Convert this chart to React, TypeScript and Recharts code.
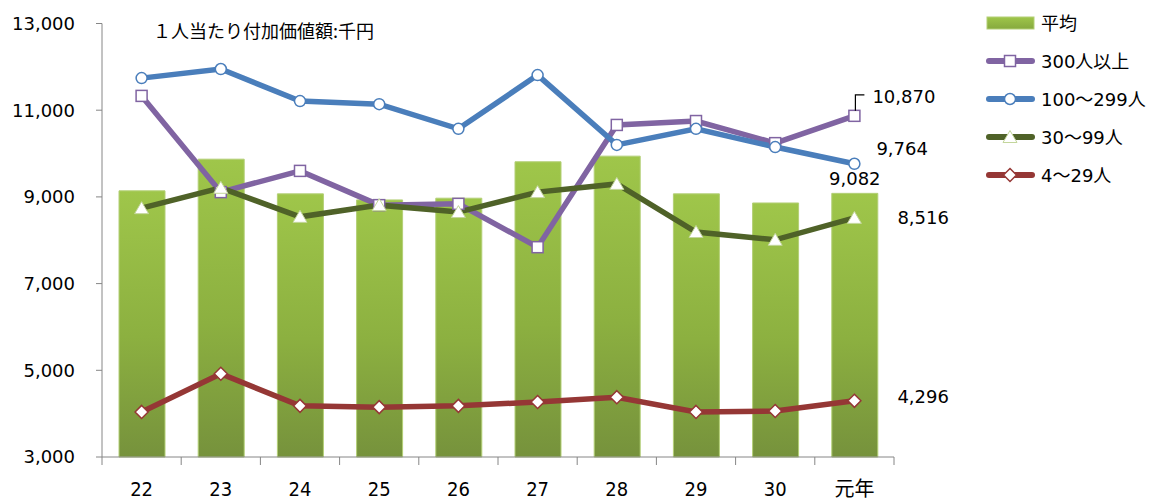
import React from "react";
import { ComposedChart, Bar, Line, XAxis, YAxis, LabelList } from "recharts";

const years = ["22", "23", "24", "25", "26", "27", "28", "29", "30", "元年"];
const average = [9140, 9870, 9070, 8930, 8970, 9810, 9940, 9070, 8860, 9082];
const over300 = [11330, 9110, 9600, 8810, 8840, 7840, 10660, 10750, 10240, 10870];
const size100 = [11740, 11950, 11210, 11140, 10570, 11810, 10200, 10570, 10150, 9764];
const size30 = [8740, 9210, 8540, 8810, 8650, 9110, 9300, 8190, 8010, 8516];
const size4 = [4040, 4920, 4180, 4150, 4180, 4270, 4380, 4040, 4060, 4296];
const yTicks = [3000, 5000, 7000, 9000, 11000, 13000];

const data = years.map((year, i) => ({
  year,
  average: average[i],
  over300: over300[i],
  size100: size100[i],
  size30: size30[i],
  size4: size4[i],
}));

const W = 1161;
const H = 501;
const LEFT = 102;
const RIGHT = 267;
const BAND = (W - LEFT - RIGHT) / years.length;
const LAST = years.length - 1;

const NUM_FONT = "'DejaVu Sans', 'Noto Sans CJK JP', sans-serif";
const JP_FONT = "'Noto Sans CJK JP', sans-serif";

const PURPLE = "#8064A2";
const BLUE = "#4A7EBB";
const OLIVE = "#4F6228";
const RED = "#953735";

const fmt = (v: number) => v.toLocaleString("en-US");

const squareDot = (p: any) => {
  if (p.cx == null || p.cy == null) return <g key={p.index} />;
  return <rect key={p.index} x={p.cx - 5.5} y={p.cy - 5.5} width={11} height={11} fill="#fff" stroke={PURPLE} strokeWidth={1.5} />;
};
const circleDot = (p: any) => {
  if (p.cx == null || p.cy == null) return <g key={p.index} />;
  return <circle key={p.index} cx={p.cx} cy={p.cy} r={5.5} fill="#fff" stroke={BLUE} strokeWidth={1.5} />;
};
const triangleDot = (p: any) => {
  if (p.cx == null || p.cy == null) return <g key={p.index} />;
  const { cx, cy } = p;
  return (
    <path key={p.index} d={`M${cx},${cy - 6.5} L${cx + 7},${cy + 5.5} L${cx - 7},${cy + 5.5} Z`} fill="#fff" stroke="#C3D69B" strokeWidth={1} />
  );
};
const diamondDot = (p: any) => {
  if (p.cx == null || p.cy == null) return <g key={p.index} />;
  const { cx, cy } = p;
  return (
    <path key={p.index} d={`M${cx},${cy - 6.5} L${cx + 6.5},${cy} L${cx},${cy + 6.5} L${cx - 6.5},${cy} Z`} fill="#fff" stroke={RED} strokeWidth={1.5} />
  );
};

// label only on the last point, offset to the right
const endLabel = (dx: number, dy: number, leader = false) => (p: any) => {
  if (p.index !== LAST) return null;
  const x = Number(p.x);
  const y = Number(p.y);
  return (
    <g>
      {leader && <path d={`M${x + 1},${y - 5} V${y - 21} H${x + 10}`} fill="none" stroke="#000" strokeWidth={1.2} />}
      <text x={x + dx} y={y + dy + 6.5} fontSize={18} fontFamily={NUM_FONT} fill="#000">
        {fmt(Number(p.value))}
      </text>
    </g>
  );
};

const barLabel = (p: any) => {
  if (p.index !== LAST) return null;
  const cx = Number(p.x) + Number(p.width) / 2;
  return (
    <text x={cx} y={Number(p.y) - 15 + 6.5} textAnchor="middle" fontSize={18} fontFamily={NUM_FONT} fill="#000">
      {fmt(Number(p.value))}
    </text>
  );
};

const XTick = (p: any) => {
  const { x, y, index, payload } = p;
  return (
    <g>
      <line x1={x - BAND / 2} x2={x - BAND / 2} y1={y} y2={y + 8} stroke="#868686" />
      {index === LAST && <line x1={x + BAND / 2} x2={x + BAND / 2} y1={y} y2={y + 8} stroke="#868686" />}
      <text x={x} y={y + 39} textAnchor="middle" fontSize={20} fontFamily="'DejaVu Sans Condensed', 'Noto Sans CJK JP', sans-serif" fill="#000">
        {payload.value}
      </text>
    </g>
  );
};

const legendItems = [
  { name: "平均", kind: "bar", color: "" },
  { name: "300人以上", kind: "square", color: PURPLE },
  { name: "100〜299人", kind: "circle", color: BLUE },
  { name: "30〜99人", kind: "triangle", color: OLIVE },
  { name: "4〜29人", kind: "diamond", color: RED },
];

function LegendBox() {
  return (
    <svg width={181} height={200} style={{ position: "absolute", left: 980, top: 0 }}>
      <defs>
        <linearGradient id="legGrad" x1="0" y1="0" x2="0" y2="1">
          <stop offset="0%" stopColor="#9FC64A" />
          <stop offset="100%" stopColor="#86A93E" />
        </linearGradient>
      </defs>
      {legendItems.map((it, i) => {
        const cy = 23 + 38 * i;
        const mx = 30;
        let marker: React.ReactNode = null;
        if (it.kind === "square") marker = squareDot({ cx: mx, cy, index: 0 });
        if (it.kind === "circle") marker = circleDot({ cx: mx, cy, index: 0 });
        if (it.kind === "triangle") marker = triangleDot({ cx: mx, cy, index: 0 });
        if (it.kind === "diamond") marker = diamondDot({ cx: mx, cy, index: 0 });
        return (
          <g key={it.name}>
            {it.kind === "bar" ? (
              <rect x={7} y={cy - 6} width={47} height={12} fill="url(#legGrad)" stroke="#B3CF76" />
            ) : (
              <line x1={9} x2={52} y1={cy} y2={cy} stroke={it.color} strokeWidth={6} strokeLinecap="round" />
            )}
            {marker}
            <text x={61} y={cy + 7} fontSize={18} fontFamily={NUM_FONT} fill="#000">
              {it.name}
            </text>
          </g>
        );
      })}
    </svg>
  );
}

export default function App() {
  return (
    <div style={{ position: "absolute", left: 0, top: 0, width: W, height: H, background: "#fff" }}>
      <ComposedChart width={W} height={H} data={data} margin={{ top: 23.5, right: RIGHT, left: 0, bottom: 0 }}>
        <defs>
          <linearGradient id="barGrad" x1="0" y1="0" x2="0" y2="1">
            <stop offset="0%" stopColor="#9FC64A" />
            <stop offset="55%" stopColor="#8CB040" />
            <stop offset="100%" stopColor="#76923C" />
          </linearGradient>
        </defs>
        <XAxis
          dataKey="year"
          height={44}
          tickSize={0}
          tickMargin={0}
          tickLine={false}
          axisLine={{ stroke: "#868686" }}
          tick={<XTick />}
          interval={0}
        />
        <YAxis
          width={LEFT}
          domain={[3000, 13000]}
          ticks={yTicks}
          tickFormatter={fmt}
          tickSize={6}
          tickMargin={21}
          axisLine={{ stroke: "#868686" }}
          tickLine={{ stroke: "#868686" }}
          tick={{ fontSize: 18, fontFamily: NUM_FONT, fill: "#000" }}
        />
        <Bar dataKey="average" name="平均" barSize={46} fill="url(#barGrad)" stroke="#B3CF76" strokeWidth={1} isAnimationActive={false}>
          <LabelList dataKey="average" content={barLabel} />
        </Bar>
        <Line dataKey="over300" name="300人以上" stroke={PURPLE} strokeWidth={5.5} dot={squareDot} activeDot={false} isAnimationActive={false}>
          <LabelList dataKey="over300" content={endLabel(18, -19, true)} />
        </Line>
        <Line dataKey="size100" name="100〜299人" stroke={BLUE} strokeWidth={5.5} dot={circleDot} activeDot={false} isAnimationActive={false}>
          <LabelList dataKey="size100" content={endLabel(22, -15)} />
        </Line>
        <Line dataKey="size30" name="30〜99人" stroke={OLIVE} strokeWidth={5.5} dot={triangleDot} activeDot={false} isAnimationActive={false}>
          <LabelList dataKey="size30" content={endLabel(43, 0)} />
        </Line>
        <Line dataKey="size4" name="4〜29人" stroke={RED} strokeWidth={5.5} dot={diamondDot} activeDot={false} isAnimationActive={false}>
          <LabelList dataKey="size4" content={endLabel(43, -4)} />
        </Line>
      </ComposedChart>
      <div
        style={{
          position: "absolute",
          left: 153,
          top: 21,
          fontSize: 18,
          lineHeight: "18px",
          fontFamily: JP_FONT,
          color: "#000",
          whiteSpace: "nowrap",
        }}
      >
        １人当たり付加価値額:千円
      </div>
      <LegendBox />
    </div>
  );
}
